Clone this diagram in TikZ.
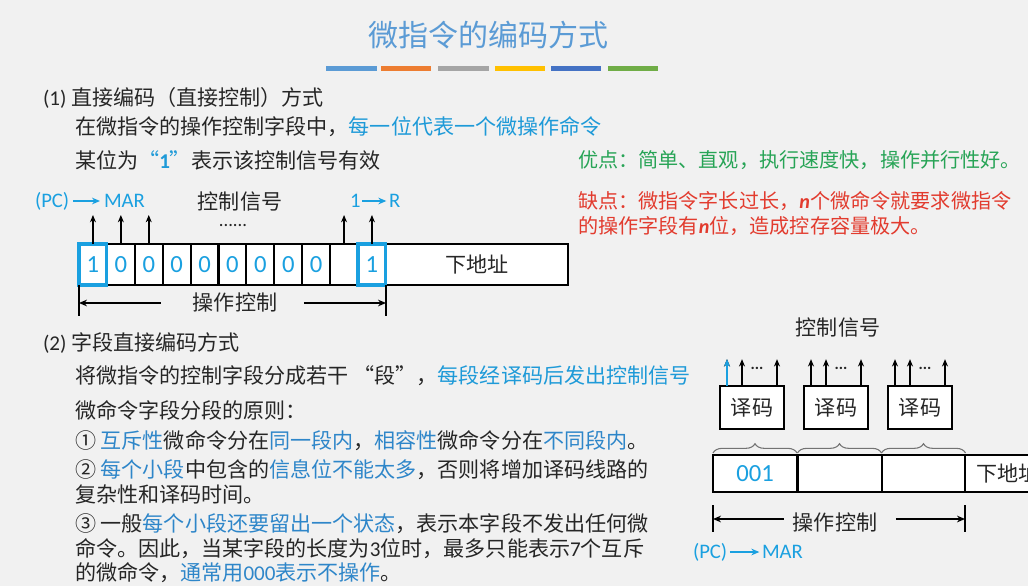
\documentclass[tikz,border=0pt]{standalone}
\usepackage{fontspec}
\setmainfont{Noto Sans CJK SC}
\newfontfamily\lat{Carlito}
\usetikzlibrary{arrows.meta,decorations.pathreplacing}
\definecolor{bg}{HTML}{F1F1F1}
\definecolor{ttl}{HTML}{5B9BD5}
\definecolor{txt}{HTML}{262626}
\definecolor{cb}{HTML}{1AA0E0}
\definecolor{hb}{HTML}{1E9AD8}
\definecolor{hbb}{HTML}{2E86C9}
\definecolor{grn}{HTML}{27A456}
\definecolor{redc}{HTML}{E23B2E}
\definecolor{bara}{HTML}{5B9BD5}
\definecolor{barb}{HTML}{ED7D31}
\definecolor{barc}{HTML}{A5A5A5}
\definecolor{bard}{HTML}{FFC000}
\definecolor{bare}{HTML}{4472C4}
\definecolor{barf}{HTML}{70AD47}
\newcommand{\bodyfont}{\fontsize{15.8}{18}\selectfont}
\newcommand{\sidefont}{\fontsize{15.1}{18}\selectfont}
\begin{document}
\begin{tikzpicture}[x=0.75pt,y=-0.75pt,
  every node/.style={inner sep=0pt,outer sep=0pt,text=txt,font=\bodyfont},
  line/.style={anchor=west},
  cell/.style={draw=black,line width=1.5pt,fill=white,minimum height=30.75pt,
    minimum width=20.9pt,font=\lat\fontsize{18.5}{20}\selectfont,text=cb},
  rcell/.style={draw=black,line width=1.5pt,fill=white,minimum height=27.75pt,
    minimum width=63pt,font=\lat\fontsize{18.5}{20}\selectfont,text=cb},
  deco/.style={draw=black,line width=1.5pt,fill=white,minimum height=32pt,
    minimum width=48pt},
  lbl/.style={font=\lat\fontsize{15.5}{17}\selectfont,text=cb},
  sig/.style={line width=1.4pt,-{Stealth[length=5.5pt,width=4.5pt]}},
  larr/.style={line width=1.5pt,draw=cb,-{Stealth[length=6pt,width=5pt]}},
  dim/.style={line width=1.3pt,-{Stealth[length=6pt,width=5pt]}},
  tick/.style={line width=1.3pt},
  brc/.style={draw=black!55,line width=0.8pt,decorate,decoration={brace,amplitude=7pt}}
]
\fill[bg] (0,0) rectangle (1028,586);
\useasboundingbox (0,0) rectangle (1028,586);
\clip (0,0) rectangle (1028,586);

% title and bars
\node[font=\fontsize{22.5}{26}\selectfont,text=ttl] (title) at (488,35) {微指令的编码方式};
\fill[bara] (326,66) rectangle (377,71);
\fill[barb] (381,66) rectangle (431,71);
\fill[barc] (438,66) rectangle (489,71);
\fill[bard] (495,66) rectangle (545,71);
\fill[bare] (551,66) rectangle (601,71);
\fill[barf] (608,66) rectangle (658,71);

% section 1 text
\node[line] (s1) at (43,98) {{\lat (1)} 直接编码（直接控制）方式};
\node[line] (s1a) at (75,127) {在微指令的操作控制字段中，\textcolor{hb}{每一位代表一个微操作命令}};
\node[line] (s1b) at (75,160) {某位为\textcolor{hb}{“{\lat\bfseries 1}”}表示该控制信号有效};
\node[line,text=grn,font=\sidefont] (adv) at (578,160) {优点：简单、直观，执行速度快，操作并行性好。};
\node[line,text=redc,font=\sidefont] (dis1) at (578,201) {缺点：微指令字长过长，{\lat\bfseries\itshape n}个微命令就要求微指令};
\node[line,text=redc,font=\sidefont] (dis2) at (578,226) {的操作字段有{\lat\bfseries\itshape n}位，造成控存容量极大。};

% left diagram
\foreach \i/\t in {1/1,2/0,3/0,4/0,5/0,6/0,7/0,8/0,9/0,10/{},11/1}
  \node[cell] (c\i) at ({79+27.9*(\i-0.5)},264.5) {\t};
\node[cell,minimum width=136.1pt,text=txt,font=\bodyfont] (addr) at (476.9,264.5) {下地址};
\draw[cb,line width=2.3pt] (c1.south west) rectangle (c1.north east);
\draw[cb,line width=2.3pt] (c11.south west) rectangle (c11.north east);
\foreach \i in {1,2,3,10,11}
  \draw[sig] (c\i.north) -- ++(0,-29);
\node[lbl,anchor=west] (pc1) at (35,201) {(PC)};
\node[lbl,anchor=west] (mar1) at (104,201) {MAR};
\draw[larr] ([xshift=3pt]pc1.east) -- ([xshift=-3pt]mar1.west);
\node (ctl1) at (240,202) {控制信号};
\node[font=\lat\fontsize{14}{16}\selectfont] (dots1) at (233,226) {......};
\node[lbl,anchor=west] (one1) at (350,201) {1};
\node[lbl,anchor=west] (r1) at (389,201) {R};
\draw[larr] ([xshift=1.5pt]one1.east) -- ([xshift=-2pt]r1.west);
\draw[tick] (c1.south west) -- ++(0,31) coordinate (lb1);
\draw[tick] (c11.south east) -- ++(0,31) coordinate (rb1);
\node (op1) at (235,302) {操作控制};
\coordinate (la1) at (79,303);
\coordinate (ra1) at (386,303);
\draw[dim] ([xshift=-24pt]op1.west |- la1) -- (la1);
\draw[dim] ([xshift=20pt]op1.east |- ra1) -- (ra1);

% section 2 text
\node[line] (s2) at (43,343) {{\lat (2)} 字段直接编码方式};
\node[line] (s2a) at (75,376) {将微指令的控制字段分成若干 “段”，\textcolor{hb}{每段经译码后发出控制信号}};
\node[line] (s2b) at (75,410) {微命令字段分段的原则：};
\node[line] (s2c) at (75,441) {① \textcolor{hbb}{互斥性}微命令分在\textcolor{hbb}{同一段内}，\textcolor{hbb}{相容性}微命令分在\textcolor{hbb}{不同段内}。};
\node[line] (s2d) at (75,470) {② \textcolor{hbb}{每个小段}中包含的\textcolor{hbb}{信息位不能太多}，否则将增加译码线路的};
\node[line] (s2e) at (75,495) {复杂性和译码时间。};
\node[line] (s2f) at (75,524) {③ 一般\textcolor{hbb}{每个小段还要留出一个状态}，表示本字段不发出任何微};
\node[line] (s2g) at (75,549) {命令。因此，当某字段的长度为{\lat 3}位时，最多只能表示{\lat 7}个互斥};
\node[line] (s2h) at (75,573) {的微命令，\textcolor{hbb}{通常用{\lat 000}表示不操作}。};

% right diagram
\node (ctl2) at (838,328) {控制信号};
\node[deco] (d1) at (752,407.5) {译码};
\node[deco] (d2) at (836,407.5) {译码};
\node[deco] (d3) at (920,407.5) {译码};
\foreach \d in {1,2,3}{
  \draw[sig] ([xshift=5.25pt]d\d.north west) -- ++(0,-27);
  \draw[sig] ([xshift=16.5pt]d\d.north west) -- ++(0,-27);
  \draw[sig] ([xshift=42.75pt]d\d.north west) -- ++(0,-27);
  \node[font=\lat\bfseries\fontsize{12}{14}\selectfont] (dd\d) at ([xshift=27.75pt,yshift=13pt]d\d.north west) {...};
}
\draw[sig,draw=cb] ([xshift=5.25pt]d1.north west) -- ++(0,-27);
\node[rcell] (q1) at (755,473.5) {001};
\node[rcell] (q2) at (839.5,473.5) {};
\node[rcell] (q3) at (923.5,473.5) {};
\node[rcell,minimum width=64.5pt,text=txt,font=\bodyfont] (q4) at (1008,473.5) {下地址};
\draw[brc] ([yshift=1.5pt]q1.north west) -- ([yshift=1.5pt]q1.north east);
\draw[brc] ([yshift=1.5pt]q2.north west) -- ([yshift=1.5pt]q2.north east);
\draw[brc] ([yshift=1.5pt]q3.north west) -- ([yshift=1.5pt]q3.north east);
\coordinate (lt2) at (713,505);
\coordinate (rt2) at (965,505);
\draw[tick] (lt2) -- ++(0,27);
\draw[tick] (rt2) -- ++(0,27);
\node (op2) at (835,522) {操作控制};
\coordinate (la2) at (713,519);
\coordinate (ra2) at (965,519);
\draw[dim] ([xshift=-7pt]op2.west |- la2) -- (la2);
\draw[dim] ([xshift=14pt]op2.east |- ra2) -- (ra2);
\node[lbl,anchor=west] (pc2) at (693,552) {(PC)};
\node[lbl,anchor=west] (mar2) at (762,552) {MAR};
\draw[larr] ([xshift=2pt]pc2.east) -- ([xshift=-2pt]mar2.west);
\end{tikzpicture}
\end{document}
